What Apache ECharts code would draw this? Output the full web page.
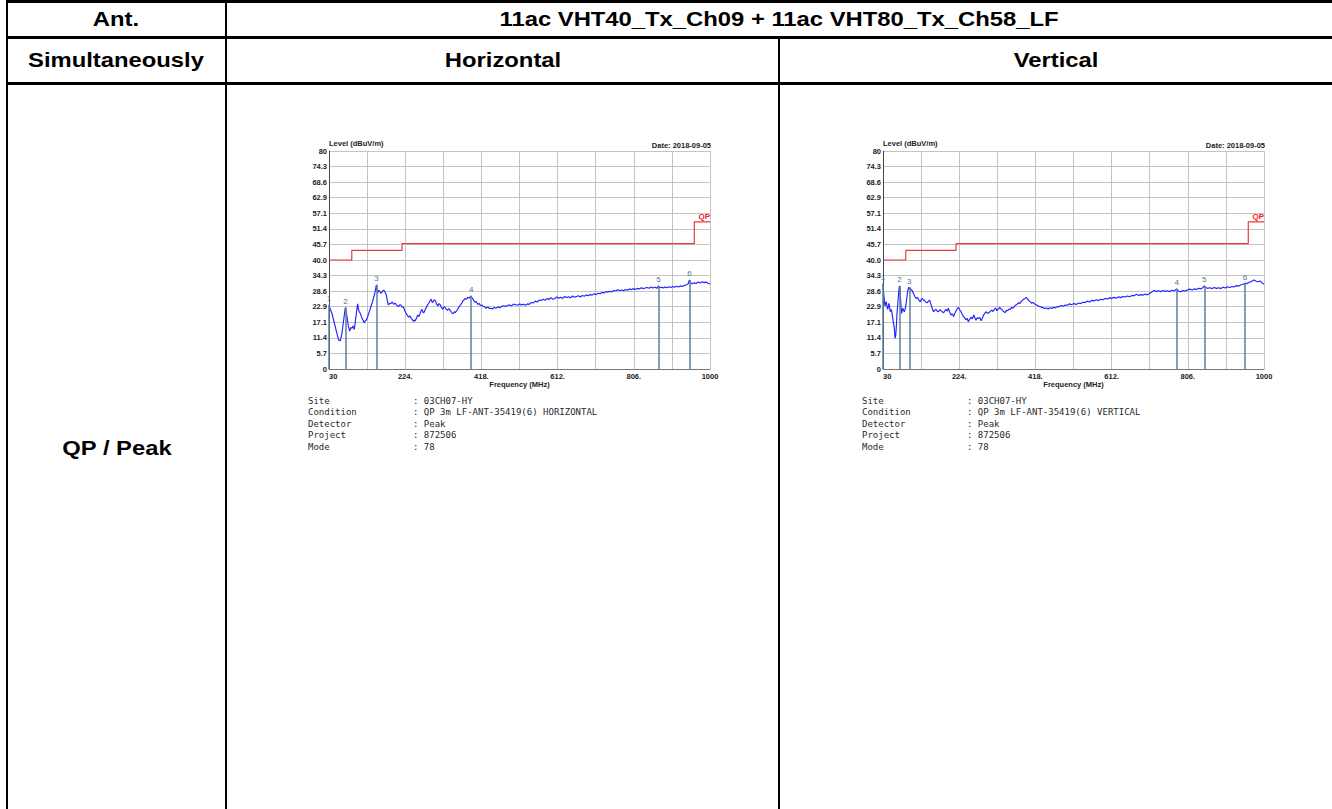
<!DOCTYPE html>
<html><head><meta charset="utf-8">
<script src="https://cdn.jsdelivr.net/npm/echarts@6/dist/echarts.min.js"></script>
<style>
html,body{margin:0;padding:0;background:#fff;width:1332px;height:809px;overflow:hidden;font-family:"Liberation Sans",Arial,sans-serif;}
.ln{position:absolute;background:#000;}
.t{position:absolute;font-weight:bold;font-size:20px;white-space:nowrap;color:#000;transform:translate(-50%,-50%) scaleX(1.19);}
#chart{position:absolute;left:0;top:0;width:1332px;height:809px;}
</style></head><body>
<div class="ln" style="left:6px;top:0;width:1326px;height:3px"></div>
<div class="ln" style="left:6px;top:36px;width:1326px;height:3px"></div>
<div class="ln" style="left:6px;top:82px;width:1326px;height:3px"></div>
<div class="ln" style="left:6px;top:0;width:2px;height:809px"></div>
<div class="ln" style="left:225px;top:0;width:2px;height:809px"></div>
<div class="ln" style="left:778px;top:37px;width:2px;height:772px"></div>
<div class="t" style="left:116px;top:19px">Ant.</div>
<div class="t" style="left:779px;top:19px">11ac VHT40_Tx_Ch09 + 11ac VHT80_Tx_Ch58_LF</div>
<div class="t" style="left:116px;top:60px">Simultaneously</div>
<div class="t" style="left:503px;top:60px">Horizontal</div>
<div class="t" style="left:1056px;top:60px">Vertical</div>
<div class="t" style="left:117px;top:448px">QP / Peak</div>
<div id="chart"></div>
<script>
const X_LABELS = ['30','224.','418.','612.','806.','1000'];
const Y_LABELS = ['0','5.7','11.4','17.1','22.9','28.6','34.3','40.0','45.7','51.4','57.1','62.9','68.6','74.3','80'];
const LIMIT_F = [30, 88, 216, 960, 1000];
const LIMIT_V = [40, 43.5, 46, 54];
const LIMIT_NAME = 'QP';
const DATE_TEXT = 'Date: 2018-09-05';
const Y_NAME = 'Level (dBuV/m)';
const X_NAME = 'Frequency (MHz)';

const H_TRACE = [
[30,23.5],[33,22.0],[37.6,20.4],[42,17.8],[46,15.5],[50,13.2],[54.6,10.6],[58.8,10.4],[63,13.1],[66,16.5],[69,19.8],[71.6,22.5],[74,20.8],[75.8,19.2],[79,16.0],[82.7,13.9],[85.5,15.2],[88.5,14.9],[91,15.8],[94.5,14.5],[97,17.5],[99.6,20.4],[103,23.9],[105,22.0],[107,21.0],[109.7,20.4],[114,18.6],[117,17.8],[120,17.0],[122,17.6],[125,18.0],[128,19.0],[131,20.4],[134.5,21.8],[138,23.5],[141,24.8],[144,26.5],[147,28.0],[150.5,30.8],[152,29.5],[154,28.0],[156.5,28.8],[159,28.6],[162,27.8],[165,28.2],[168,28.9],[171,28.7],[173.5,28.0],[176,27.1],[178.5,25.2],[181,23.5],[184,24.0],[188,24.1],[191,24.6],[195,23.7],[198,24.2],[201.5,23.6],[204,23.2],[207.5,22.9],[210,23.6],[213,23.5],[216,22.8],[220,22.6],[223,21.4],[227,20.2],[230,19.6],[233,19.0],[236,19.5],[239,18.6],[242,18.2],[245.6,17.4],[248,18.0],[250,17.7],[253,18.8],[256,19.8],[259,19.2],[262.7,20.7],[265,21.5],[267,21.9],[270,20.6],[273,21.0],[275.5,22.0],[278,22.6],[281,23.6],[284,24.1],[287,25.0],[290,25.6],[293,24.4],[295,24.7],[298,25.4],[301,25.0],[304,23.8],[307,23.1],[310,24.0],[313.5,23.5],[317,22.4],[320,21.9],[323,22.8],[326,22.6],[329,21.8],[332,21.6],[335,22.2],[339,21.4],[342,20.8],[346,20.2],[349,21.0],[351.6,20.7],[355,21.4],[357.7,21.9],[361,22.8],[364.5,23.5],[368,24.2],[371,25.0],[374,25.4],[377,25.9],[380,25.6],[383,26.3],[387,26.0],[391.5,26.8],[395,25.9],[398,25.3],[402,24.5],[405,24.8],[408.5,23.7],[412,24.1],[415,23.3],[418.7,23.5],[422,23.0],[426,22.9],[430,22.3],[434,22.8],[438,22.2],[442,22.3],[446,22.0],[450,22.6],[455,22.3],[460,22.8],[465,22.5],[470,23.0],[475,23.2],[480,22.9],[485,23.4],[490,23.5],[495,23.2],[500,23.8],[505,23.6],[510,23.4],[515,23.9],[520,23.5],[525,23.8],[530,23.4],[535,23.9],[540,23.7],[545,24.4],[550,24.2],[555,24.9],[560,24.6],[565,25.3],[570,25.1],[575,25.6],[580,25.2],[585,25.9],[590,25.5],[595,26.2],[600,25.6],[605,25.9],[610,26.4],[615,26.0],[620,26.3],[625,25.9],[630,26.6],[635,26.2],[640,26.5],[645,26.1],[650,26.8],[655,26.3],[660,26.6],[665,26.9],[670,26.4],[675,27.0],[680,26.7],[685,27.2],[690,26.9],[695,27.3],[700,27.1],[705,27.6],[710,27.3],[715,27.8],[720,27.6],[725,28.1],[730,27.9],[735,28.4],[740,28.2],[745,28.5],[750,28.3],[755,28.8],[760,28.6],[765,29.1],[770,28.8],[775,29.0],[780,28.7],[785,29.2],[790,28.9],[795,29.4],[800,29.1],[805,29.5],[810,29.2],[815,29.6],[820,29.4],[825,29.8],[830,29.5],[835,29.7],[840,29.9],[845,29.6],[850,30.1],[855,29.7],[860,30.0],[865,29.6],[869,30.5],[873,29.8],[877,30.0],[881,29.7],[885,30.1],[890,29.8],[895,30.2],[900,29.9],[905,30.3],[910,30.0],[915,30.4],[920,30.1],[925,30.5],[930,30.3],[935,30.7],[940,30.9],[944,31.2],[947.5,32.7],[951,31.6],[955,31.3],[960,31.6],[965,31.4],[970,31.9],[975,31.6],[980,32.0],[985,31.7],[990,31.9],[995,31.5],[1000,31.2]
];

const V_TRACE = [
[30,31.3],[31.7,27.8],[33.5,25.0],[35,23.1],[36.8,24.3],[38.5,24.7],[40,23.0],[42,21.9],[43.5,23.0],[45,24.1],[47,22.4],[48.6,21.0],[50.5,21.8],[52,21.4],[54,19.5],[55.5,18.0],[57.5,16.2],[58.9,14.9],[60.6,11.3],[62,12.0],[63,13.4],[64.5,17.0],[65.6,20.4],[67.5,23.5],[69,26.5],[70.5,29.0],[71.6,30.5],[73,29.0],[74,27.1],[76,23.0],[77.5,20.4],[79,21.5],[80.9,22.3],[82.5,21.5],[84.3,21.0],[86,21.8],[87.7,22.9],[89.5,24.8],[91,26.5],[93,28.5],[95.4,30.0],[97.5,29.5],[99.6,29.6],[102,29.0],[104.7,28.7],[107,27.8],[109.8,27.1],[112,26.3],[114.9,25.9],[117.5,26.3],[120,25.6],[122.5,25.0],[125,24.7],[127.5,25.5],[130.3,25.9],[133,25.2],[135.4,25.3],[138.5,24.6],[142,24.3],[145.5,24.8],[149,25.3],[151.5,24.0],[154,22.9],[156.5,21.7],[159,21.0],[162,21.6],[165,21.9],[168,21.2],[171,21.0],[174.5,21.8],[177.7,21.4],[181,20.9],[184.5,20.7],[187.5,21.4],[190.4,21.9],[193.5,21.2],[196.3,22.3],[199.5,21.0],[203,19.8],[206.5,20.3],[210,19.2],[213,20.5],[216,21.4],[219,22.1],[222,22.6],[225,21.8],[228.5,21.0],[231.5,20.2],[235,19.2],[238,18.8],[241,18.1],[244,18.6],[247,17.4],[250.5,18.2],[254,19.0],[257.5,18.4],[261,19.8],[264,18.8],[266.8,17.9],[270,18.8],[273,18.5],[276.5,18.9],[279.6,17.7],[283,18.6],[286,19.8],[289.5,20.5],[293,21.0],[296.5,20.4],[300,20.7],[303.5,21.2],[306.7,21.6],[310,21.1],[313.5,21.9],[317,22.4],[320,21.4],[323.5,22.0],[327,22.6],[330.5,22.0],[334,21.6],[337.5,21.0],[340.7,20.7],[344,21.5],[347.5,21.4],[351,22.0],[354,21.9],[357.5,22.6],[361,22.3],[364.5,23.0],[368,23.5],[371.5,23.8],[374.6,24.3],[378,24.0],[381.4,24.7],[385,25.2],[388,25.6],[391.5,25.9],[395,26.3],[398.5,25.5],[402,25.0],[405.5,24.6],[408.6,24.1],[412,24.4],[417,23.8],[421,23.5],[425,23.1],[430,22.9],[434,22.6],[438,22.5],[442,22.2],[446,22.4],[451,22.0],[455,22.5],[460,22.2],[464,22.7],[468,22.4],[473,22.9],[478,22.8],[483,23.3],[488,23.0],[494,23.5],[499,23.4],[505,23.9],[510,23.6],[516,24.0],[522,23.7],[528,24.2],[533,24.0],[539,24.5],[545,24.4],[550,24.9],[556,24.6],[562,25.2],[567,25.0],[573,25.4],[579,25.1],[585,25.6],[590,25.4],[596,25.9],[601,25.7],[607,26.1],[613,25.9],[618,26.3],[624,26.0],[630,26.5],[635,26.2],[641,26.6],[647,26.4],[652,26.8],[658,26.5],[664,27.0],[669,26.9],[675,27.4],[681,27.0],[686,27.3],[692,27.1],[698,27.5],[703,27.2],[709,27.8],[715,28.3],[720,28.8],[726,28.5],[732,28.7],[737,28.4],[743,28.8],[749,28.5],[754,28.7],[760,28.4],[766,28.9],[771,28.6],[777.7,29.4],[783,28.5],[788,28.4],[794,28.8],[800,28.6],[805,29.0],[811,29.3],[817,29.0],[822,29.4],[828,29.2],[834,29.6],[839,29.4],[844,29.8],[848,30.5],[852,29.9],[856,29.6],[862,29.8],[868,29.5],[873,29.9],[879,29.6],[885,29.8],[890,29.5],[896,30.0],[902,29.7],[907,30.2],[913,29.9],[919,30.3],[924,30.1],[930,30.6],[935,30.4],[941,30.9],[946,31.0],[951.6,31.5],[956,31.3],[962,31.8],[967,32.0],[971,32.4],[975,32.7],[980,32.2],[985,32.0],[990,32.3],[995,31.6],[1000,31.1]
];

const H_MARKERS = [[30,23.5],[72,22.6],[151,31.0],[392,26.8],[869,30.5],[947.5,32.7]];
const V_MARKERS = [[30,31.3],[72,30.5],[97,30.0],[778,29.4],[848,30.5],[951.6,31.5]];

const INFO_KEYS = ['Site','Condition','Detector','Project','Mode'];
const H_INFO = ['03CH07-HY','QP 3m LF-ANT-35419(6) HORIZONTAL','Peak','872506','78'];
const V_INFO = ['03CH07-HY','QP 3m LF-ANT-35419(6) VERTICAL','Peak','872506','78'];

const PANELS = [
  {left:329, top:151, width:381, height:218, trace:H_TRACE, markers:H_MARKERS, info:H_INFO},
  {left:883, top:151, width:381, height:218, trace:V_TRACE, markers:V_MARKERS, info:V_INFO}
];

const FONT = '"Liberation Sans", Arial, sans-serif';
const MONO = '"DejaVu Sans Mono", monospace';
const XSTEP = (LIMIT_F[LIMIT_F.length-1] - LIMIT_F[0]) / 10;
const YSTEP = 80 / 14;

function limitData() {
  const d = [];
  for (let i = 0; i < LIMIT_V.length; i++) {
    d.push([LIMIT_F[i], LIMIT_V[i]]);
    d.push([LIMIT_F[i+1], LIMIT_V[i]]);
  }
  return d;
}

const option = {animation:false, grid:[], xAxis:[], yAxis:[], series:[], graphic:[]};
PANELS.forEach((p, i) => {
  option.grid.push({left:p.left, top:p.top, width:p.width, height:p.height, show:false});
  option.xAxis.push({type:'value', gridIndex:i, min:LIMIT_F[0], max:LIMIT_F[LIMIT_F.length-1], show:false, splitLine:{show:false}});
  option.xAxis.push({type:'value', gridIndex:i, min:0, max:XSTEP*10, interval:XSTEP, position:'bottom',
    axisLine:{show:true, lineStyle:{color:'#777', width:1}}, axisTick:{show:false},
    splitLine:{show:true, lineStyle:{color:'#c4c4c4', width:1}},
    axisLabel:{margin:3, fontSize:7.5, fontWeight:'bold', color:'#222', fontFamily:FONT, alignMinLabel:'left',
      formatter:(v)=>{const k=Math.round(v/XSTEP); return k%2===0 ? X_LABELS[k/2] : '';}},
    name:X_NAME, nameLocation:'middle', nameGap:11,
    nameTextStyle:{fontSize:7.5, fontWeight:'bold', color:'#222', fontFamily:FONT}});
  option.yAxis.push({type:'value', gridIndex:i, min:0, max:80, interval:YSTEP,
    axisLine:{show:true, lineStyle:{color:'#444', width:1}}, axisTick:{show:false},
    splitLine:{show:true, lineStyle:{color:'#c4c4c4', width:1}},
    axisLabel:{margin:2, fontSize:7.5, fontWeight:'bold', color:'#222', fontFamily:FONT,
      formatter:(v)=>Y_LABELS[Math.round(v/YSTEP)]},
    name:Y_NAME, nameLocation:'end', nameGap:1,
    nameTextStyle:{align:'left', verticalAlign:'bottom', fontSize:7.5, fontWeight:'bold', color:'#222', fontFamily:FONT}});
  option.series.push({type:'line', xAxisIndex:i*2, yAxisIndex:i, data:limitData(), showSymbol:false, symbol:'none',
    lineStyle:{color:'#e83a3a', width:1.2}, z:3, silent:true,
    endLabel:{show:true, formatter:LIMIT_NAME, align:'right', verticalAlign:'bottom', distance:0, offset:[0,-1],
      color:'#ee2020', fontWeight:'bold', fontSize:8, fontFamily:FONT}});
  option.series.push({type:'line', xAxisIndex:i*2, yAxisIndex:i, data:p.trace, showSymbol:false, symbol:'none',
    lineStyle:{color:'#2323ff', width:1.15}, z:4, silent:true,
    markLine:{silent:true, symbol:'none', animation:false, precision:2,
      lineStyle:{color:'#5d7d9c', width:1.5, type:'solid'},
      label:{show:true, position:'end', distance:2, formatter:'{b}', color:'#4f73a0', fontSize:8, fontFamily:FONT},
      data:p.markers.map((m,k)=>[{coord:[m[0],0], name:String(k+1)},{coord:[m[0],m[1]]}])}});
  option.graphic.push({type:'text', x:p.left+p.width+1, y:145, z:10,
    style:{text:DATE_TEXT, align:'right', verticalAlign:'middle', font:'bold 7.5px '+FONT, fill:'#222'}});
  INFO_KEYS.forEach((key, r) => {
    const y = 401 + r*11.4;
    option.graphic.push({type:'text', x:p.left-21, y:y, style:{text:key, verticalAlign:'middle', font:'9px '+MONO, fill:'#2a2a2a'}});
    option.graphic.push({type:'text', x:p.left+84, y:y, style:{text:': '+p.info[r], verticalAlign:'middle', font:'9px '+MONO, fill:'#2a2a2a'}});
  });
});

const chart = echarts.init(document.getElementById('chart'), null, {renderer:'svg'});
chart.setOption(option);
</script>
</body></html>
